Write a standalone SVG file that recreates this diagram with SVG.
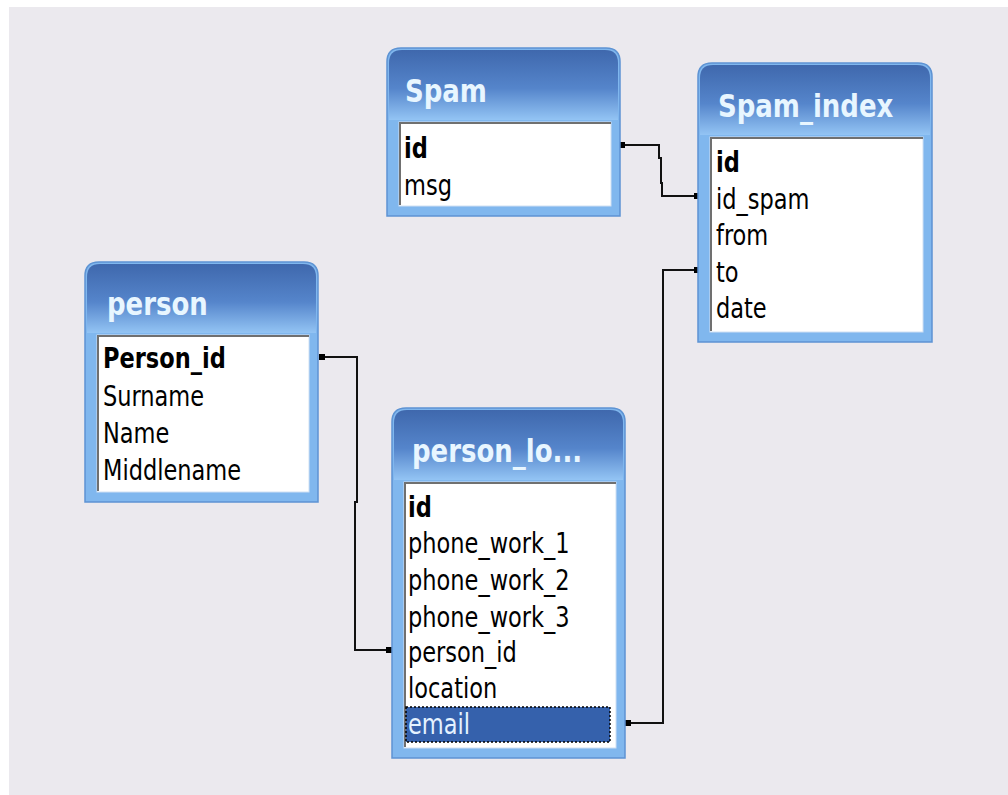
<svg xmlns="http://www.w3.org/2000/svg" width="1008" height="795" viewBox="0 0 1008 795">
<defs>
<linearGradient id="hdr" x1="0" y1="0" x2="0" y2="1">
<stop offset="0" stop-color="#3f68ad"/>
<stop offset="0.55" stop-color="#5585cb"/>
<stop offset="1" stop-color="#93c4f4"/>
</linearGradient>
<marker id="sq" viewBox="0 0 6 6" refX="3" refY="3" markerWidth="6" markerHeight="6" markerUnits="userSpaceOnUse">
<rect x="0" y="0" width="6" height="6" fill="#000"/>
</marker>
<style>
.frame{fill:#80b7ee;stroke:#5d93d3;stroke-width:1.5}
.body{fill:#ffffff;stroke:#cfe0f3;stroke-width:1}
.sunk{fill:none;stroke:#707070;stroke-width:2}
.title{font-family:"DejaVu Sans",Verdana,sans-serif;font-weight:bold;font-size:26px;fill:#e8f6ff}
.row{font-family:"DejaVu Sans Condensed","DejaVu Sans",sans-serif;font-size:25px;fill:#000}
.pk{font-weight:bold}
.sel{fill:#3561ac;stroke:#000;stroke-width:1.5;stroke-dasharray:2 2}
.selt{fill:#e4f2ff}
.conn{fill:none;stroke:#111;stroke-width:2}
</style>
</defs>
<rect x="0" y="0" width="1008" height="795" fill="#ffffff"/>
<rect x="9" y="7" width="999" height="788" fill="#ebe9ee"/>

<g id="connectors">
<path class="conn" d="M622,145 H659 V158 H661 V183 H662 V196 H697" marker-start="url(#sq)" marker-end="url(#sq)"/>
<path class="conn" d="M628,723 H663 V270 H697" marker-start="url(#sq)" marker-end="url(#sq)"/>
<path class="conn" d="M322,357 H357 V502 H355 V650 H389" marker-start="url(#sq)" marker-end="url(#sq)"/>
</g>

<g id="spam">
<path class="frame" d="M387,216 V62 Q387,48 401,48 H606 Q620,48 620,62 V216 Z"/>
<path d="M389,120 V63 Q389,50 402,50 H605 Q618,50 618,63 V120 Z" fill="url(#hdr)"/>
<rect class="body" x="399" y="122" width="212" height="84"/>
<path class="sunk" d="M400,205 V123 H611"/>
<text class="title" transform="translate(405,102) scale(1,1.2)">Spam</text>
<text class="row pk" transform="translate(404,158) scale(1,1.15)">id</text>
<text class="row" transform="translate(404,195) scale(1,1.15)">msg</text>
</g>

<g id="spam_index">
<path class="frame" d="M698,342 V77 Q698,63 712,63 H918 Q932,63 932,77 V342 Z"/>
<path d="M700,135 V78 Q700,65 713,65 H917 Q930,65 930,78 V135 Z" fill="url(#hdr)"/>
<rect class="body" x="710" y="137" width="213" height="195"/>
<path class="sunk" d="M711,331 V138 H923"/>
<text class="title" transform="translate(718,117) scale(1,1.2)">Spam_index</text>
<text class="row pk" transform="translate(716,172) scale(1,1.15)">id</text>
<text class="row" transform="translate(716,209) scale(1,1.15)">id_spam</text>
<text class="row" transform="translate(716,245) scale(1,1.15)">from</text>
<text class="row" transform="translate(716,282) scale(1,1.15)">to</text>
<text class="row" transform="translate(716,318) scale(1,1.15)">date</text>
</g>

<g id="person">
<path class="frame" d="M85,502 V276 Q85,262 99,262 H304 Q318,262 318,276 V502 Z"/>
<path d="M87,333 V277 Q87,264 100,264 H303 Q316,264 316,277 V333 Z" fill="url(#hdr)"/>
<rect class="body" x="97" y="335" width="212" height="157"/>
<path class="sunk" d="M98,491 V336 H309"/>
<text class="title" transform="translate(107,315) scale(1,1.2)">person</text>
<text class="row pk" transform="translate(103,368) scale(1,1.15)">Person_id</text>
<text class="row" transform="translate(103,406) scale(1,1.15)">Surname</text>
<text class="row" transform="translate(103,443) scale(1,1.15)">Name</text>
<text class="row" transform="translate(103,480) scale(1,1.15)">Middlename</text>
</g>

<g id="person_lo">
<path class="frame" d="M392,758 V422 Q392,408 406,408 H611 Q625,408 625,422 V758 Z"/>
<path d="M394,480 V423 Q394,410 407,410 H610 Q623,410 623,423 V480 Z" fill="url(#hdr)"/>
<rect class="body" x="404" y="482" width="212" height="266"/>
<path class="sunk" d="M405,747 V483 H616"/>
<text class="title" transform="translate(412,462) scale(1,1.2)">person_lo...</text>
<text class="row pk" transform="translate(408,517) scale(1,1.15)">id</text>
<text class="row" transform="translate(408,553) scale(1,1.15)">phone_work_1</text>
<text class="row" transform="translate(408,590) scale(1,1.15)">phone_work_2</text>
<text class="row" transform="translate(408,627) scale(1,1.15)">phone_work_3</text>
<text class="row" transform="translate(408,662) scale(1,1.15)">person_id</text>
<text class="row" transform="translate(408,698) scale(1,1.15)">location</text>
<rect class="sel" x="406" y="707" width="204" height="35"/>
<text class="row selt" transform="translate(408,734) scale(1,1.15)">email</text>
</g>
</svg>
